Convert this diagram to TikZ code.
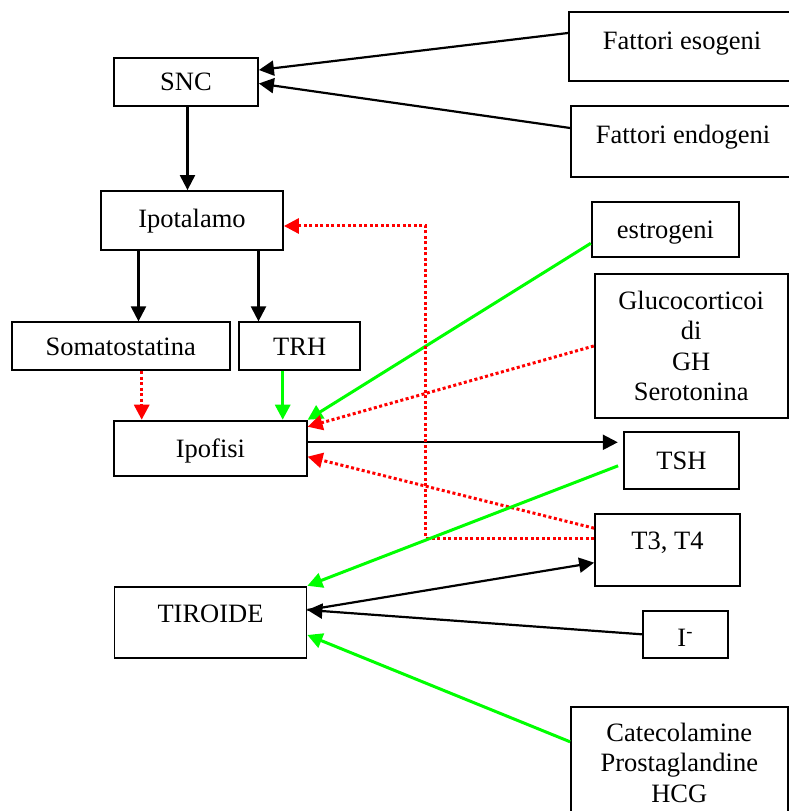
\documentclass[tikz,border=0pt]{standalone}
\usepackage{fontspec}
\setmainfont{Liberation Serif}
\usepackage{tikz}
\usetikzlibrary{arrows.meta, positioning, calc}

\begin{document}
\begin{tikzpicture}[
  x=1pt, y=1pt,
  font=\fontsize{26.5}{30.5}\selectfont,
  box/.style={rectangle, draw, line width=1.8pt, inner sep=0pt, align=center},
  word/.style={text height=18pt, text depth=0.5pt},
  arrow/.style={-{Triangle[length=15pt, width=15pt]}, line width=2.2pt},
  stim/.style={arrow, green, line width=3pt},
  inhib/.style={arrow, red, line width=3pt, dash pattern=on 3pt off 2.5pt}
]
\useasboundingbox (0,0) rectangle (789,811);

\node[box, word, minimum width=144pt, minimum height=48pt] (SNC) at (186,729) {SNC};
\node[box, word, text depth=11.5pt, minimum width=226pt, minimum height=69pt] (FE) at (682,764.5) {Fattori esogeni};
\node[box, word, text depth=13.5pt, minimum width=224pt, minimum height=71pt] (FN) at (683,669.5) {Fattori endogeni};
\node[box, word, text depth=4pt, minimum width=182pt, minimum height=59pt] (IPT) at (192,590.5) {Ipotalamo};
\node[box, word, minimum width=218pt, minimum height=48pt] (SOM) at (120.7,464.7) {Somatostatina};
\node[box, word, minimum width=121pt, minimum height=48pt] (TRH) at (299.7,464.7) {TRH};
\node[box, word, minimum width=192.4pt, minimum height=55.3pt] (IPF) at (210.5,362.7) {Ipofisi};
\node[box, word, minimum width=147.6pt, minimum height=54.4pt] (EST) at (665.5,581.5) {estrogeni};
\node[box, minimum width=193pt, minimum height=143.4pt] (GLU) at (691.2,465) {Glucocorticoi\\di\\GH\\Serotonina};
\node[box, word, minimum width=115.6pt, minimum height=57pt] (TSH) at (681.5,350.2) {TSH};
\node[box, word, text depth=19pt, minimum width=145pt, minimum height=71.7pt] (T34) at (667.5,260.8) {T3, T4};
\node[box, word, text height=25pt, minimum width=85pt, minimum height=47.3pt] (IOD) at (685.2,176.7) {I\textsuperscript{-}};
\node[box, word, text depth=17.5pt, minimum width=192pt, minimum height=71.6pt] (TIR) at (210.5,188.5) {TIROIDE};
\node[box, minimum width=216.6pt, minimum height=112pt] (CAT) at (679.3,48.3) {Catecolamine\\Prostaglandine\\HCG};

% asse SNC - ipotalamo - ipofisi
\draw[arrow] ([yshift=13.5pt]FE.west) -- ([yshift=12pt]SNC.east);
\draw[arrow] ([yshift=13.5pt]FN.west) -- ([yshift=-1.5pt]SNC.east);
\draw[arrow] ([xshift=1.5pt]SNC.south) -- ([xshift=1.5pt]SNC.south |- IPT.north);
\draw[arrow] ([xshift=-53.5pt]IPT.south) -- ([xshift=-53.5pt]IPT.south |- SOM.north);
\draw[arrow] ([xshift=66.5pt]IPT.south) -- ([xshift=66.5pt]IPT.south |- TRH.north);
\draw[inhib] ([xshift=21pt]SOM.south) -- ([xshift=21pt]SOM.south |- IPF.north);
\draw[stim] ([xshift=-17pt]TRH.south) -- ([xshift=-17pt]TRH.south |- IPF.north);
\draw[stim] ([yshift=-13.8pt]EST.west) -- (IPF.north east);
\draw[inhib] (GLU.west) -- ([yshift=-7pt]IPF.north east);
\draw[arrow, shorten >=5pt] ([yshift=6pt]IPF.east) -- ([yshift=6pt]IPF.east -| TSH.west);

% feedback
\draw[inhib] ([yshift=22pt]T34.west) -- ([yshift=-8.4pt]IPF.east);
\draw[inhib] ([yshift=12pt]T34.west) -- ++(-168.3,0) |- ([yshift=-5.5pt]IPT.east);

% tiroide
\draw[stim] ([xshift=-4.7pt, yshift=-5pt]TSH.west) -- (TIR.north east);
\draw[arrow] ([yshift=12.5pt]TIR.east) -- ([yshift=-12.5pt]T34.west);
\draw[arrow] (IOD.west) -- ([yshift=12.5pt]TIR.east);
\draw[stim] ([yshift=-36pt]CAT.north west) -- ([yshift=-12.5pt]TIR.east);
\end{tikzpicture}
\end{document}
